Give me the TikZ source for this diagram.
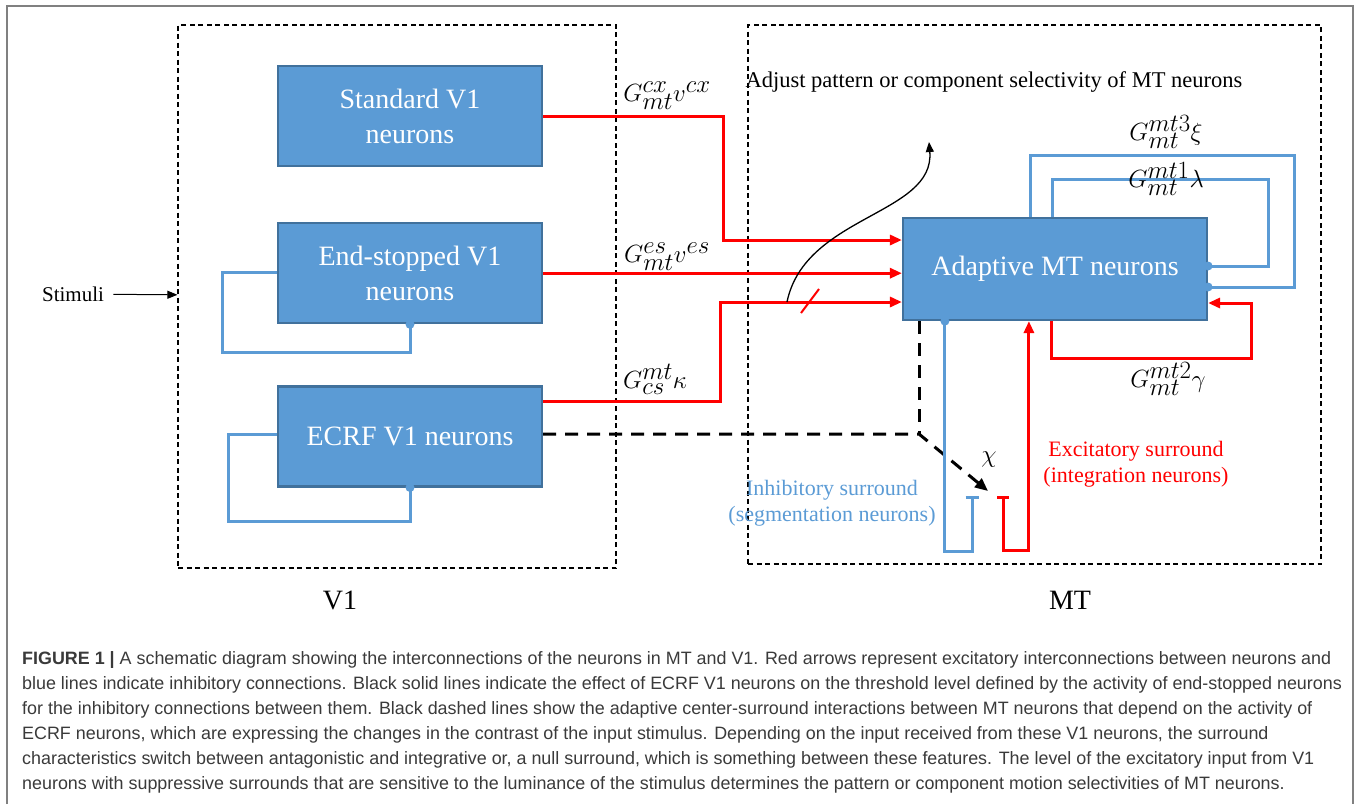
\documentclass[tikz,border=0pt]{standalone}
\usepackage{fontspec}
\setmainfont{Liberation Serif}
\newfontfamily\capfont{Liberation Sans}
\DeclareMathSizes{27}{27}{24}{18}
\usepackage{xcolor}
\definecolor{cellblue}{HTML}{5B9BD5}
\definecolor{celledge}{HTML}{41719C}
\definecolor{excred}{HTML}{FF0000}
\definecolor{capgray}{HTML}{3A3A3A}
\usepackage{tikz}
\usetikzlibrary{positioning,arrows.meta}

\begin{document}
\begin{tikzpicture}[
  x=1pt, y=-1pt,
  node distance=55pt,
  box/.style={draw=celledge, fill=cellblue, line width=2.2pt,
              minimum width=264pt, minimum height=100pt, text=white,
              font=\fontsize{28}{35}\selectfont, align=center},
  region/.style={draw, dash pattern=on 5pt off 3.5pt, line width=1.2pt},
  exc/.style={-{Triangle[length=12pt,width=10pt]}, line width=3pt, color=excred},
  inh/.style={line width=3pt, color=cellblue},
  ctl/.style={line width=3pt, dash pattern=on 13pt off 9pt},
  gain/.style={font=\fontsize{27}{30}\selectfont, inner sep=0pt},
  lbl/.style={font=\fontsize{21}{26}\selectfont}
]
  \useasboundingbox (0,0) rectangle (1357,804);
  % frame of the figure
  \draw[gray, line width=1.5pt] (7,804) -- (7,6) -- (1353,6) -- (1353,804);

  % regions
  \node[region, minimum width=438pt, minimum height=543pt] (v1reg) at (397,296.5) {};
  \node[region, minimum width=573pt, minimum height=539pt] (mtreg) at (1034.5,294.5) {};
  \node[font=\fontsize{28}{32}\selectfont] (v1lab) at (340,600) {V1};
  \node[font=\fontsize{28}{32}\selectfont] (mtlab) at (1070,600) {MT};

  % V1 cells
  \node[box] (std) at (410,116) {Standard V1\\neurons};
  \node[box, below=of std] (es) {End-stopped V1\\neurons};
  \node[box, below=61pt of es] (ecrf) {ECRF V1 neurons};

  % MT cells
  \node[box, minimum width=304pt, minimum height=102pt] (mt) at (1055,269) {Adaptive MT neurons};

  % stimulus
  \node[lbl] (stim) at (73,294) {Stimuli};
  \draw[-{Triangle[length=10pt,width=8pt]}, line width=1pt, shorten <=6pt] (stim) -- (v1reg);

  % self inhibition in V1
  \draw[inh] ([yshift=1pt]es.west) -| (222,352) -| (es.south);
  \fill[cellblue] (es.south) circle (4.5pt);
  \draw[inh] ([yshift=2pt]ecrf.west) -| (228,521) -| (ecrf.south);
  \fill[cellblue] (ecrf.south) circle (4.5pt);

  % V1 -> MT
  \coordinate (k1) at (723,240);
  \coordinate (k3) at (720,302);
  \draw[exc] (std.east) -| (k1) -- (k1 -| mt.west);
  \draw[exc] (es.east) -- (es.east -| mt.west);
  \draw[exc] ([yshift=35pt]ecrf.east) -| (k3) -- (k3 -| mt.west);
  \coordinate (cut1) at (801,313);
  \coordinate (cut2) at (819,289);
  \draw[excred, line width=2pt] (cut1) -- (cut2);

  \node[gain] (gcx) at (667,96) {$G^{cx}_{mt}v^{cx}$};
  \node[gain] (ges) at (667,257) {$G^{es}_{mt}v^{es}$};
  \node[gain] (gcs) at (655,379) {$G^{mt}_{cs}\kappa$};

  % threshold effect
  \coordinate (tap) at (787,302);
  \coordinate (adj) at (929,142);
  \draw[-{Triangle[length=10pt,width=8pt]}, line width=1.3pt]
    (tap) .. controls (805,215) and (935,215) .. (adj);
  \node[lbl, anchor=west, font=\fontsize{22.5}{26}\selectfont] (adjtxt) at (742,82)
    {Adjust pattern or component selectivity of MT neurons};

  % MT recurrent loops
  \draw[inh] ([xshift=129pt]mt.north west) |- (1294,155) |- ([yshift=-18pt]mt.east);
  \fill[cellblue] ([yshift=-18pt]mt.east) circle (4.5pt);
  \draw[inh] ([xshift=151pt]mt.north west) |- (1268,179) |- ([yshift=3pt]mt.east);
  \fill[cellblue] ([yshift=3pt]mt.east) circle (4.5pt);
  \draw[exc] ([xshift=150pt]mt.south west) |- (1251,358) |- ([yshift=-34pt]mt.east);

  \node[gain] (g3) at (1166,132) {$G^{mt3}_{mt}\xi$};
  \node[gain] (g1) at (1166,179) {$G^{mt1}_{mt}\lambda$};
  \node[gain] (g2) at (1168,379) {$G^{mt2}_{mt}\gamma$};

  % centre-surround
  \coordinate (j) at (919,434);
  \coordinate (chi) at (988,491);
  \draw[ctl] (j |- mt.south) -- (j);
  \draw[ctl, -{Triangle[length=13pt,width=11pt]}] (ecrf.east |- j) -- (j) -- (chi);
  \node[gain] (chilab) at (989,460) {$\chi$};

  \coordinate (ib) at (972,496);
  \coordinate (eb) at (1003,496);
  \draw[inh, -{Bar[width=13pt,line width=3pt]}] ([xshift=43pt]mt.south west) -- ++(0,230) -| (ib);
  \fill[cellblue] ([xshift=43pt]mt.south west) circle (4.5pt);
  \draw[exc, {Bar[width=12pt,line width=3pt]}-{Triangle[length=12pt,width=10pt]}]
    (eb) -- ++(0,54) -| ([xshift=127pt]mt.south west);

  \node[lbl, text=cellblue, align=center, font=\fontsize{22}{26}\selectfont] (inhtxt) at (832,503)
    {Inhibitory surround\\(segmentation neurons)};
  \node[lbl, text=excred, align=center, font=\fontsize{22}{26}\selectfont] (exctxt) at (1136,464)
    {Excitatory surround\\(integration neurons)};

  % caption
  \node[anchor=north west, align=left, text=capgray, inner sep=0pt,
        font=\capfont\fontsize{17.9}{25}\selectfont] (cap) at (22,651)
    {\textbf{FIGURE 1 |} A schematic diagram showing the interconnections of the neurons in MT and V1. Red arrows represent excitatory interconnections between neurons and\\
     blue lines indicate inhibitory connections. Black solid lines indicate the effect of ECRF V1 neurons on the threshold level defined by the activity of end-stopped neurons\\
     for the inhibitory connections between them. Black dashed lines show the adaptive center-surround interactions between MT neurons that depend on the activity of\\
     ECRF neurons, which are expressing the changes in the contrast of the input stimulus. Depending on the input received from these V1 neurons, the surround\\
     characteristics switch between antagonistic and integrative or, a null surround, which is something between these features. The level of the excitatory input from V1\\
     neurons with suppressive surrounds that are sensitive to the luminance of the stimulus determines the pattern or component motion selectivities of MT neurons.};
\end{tikzpicture}
\end{document}
